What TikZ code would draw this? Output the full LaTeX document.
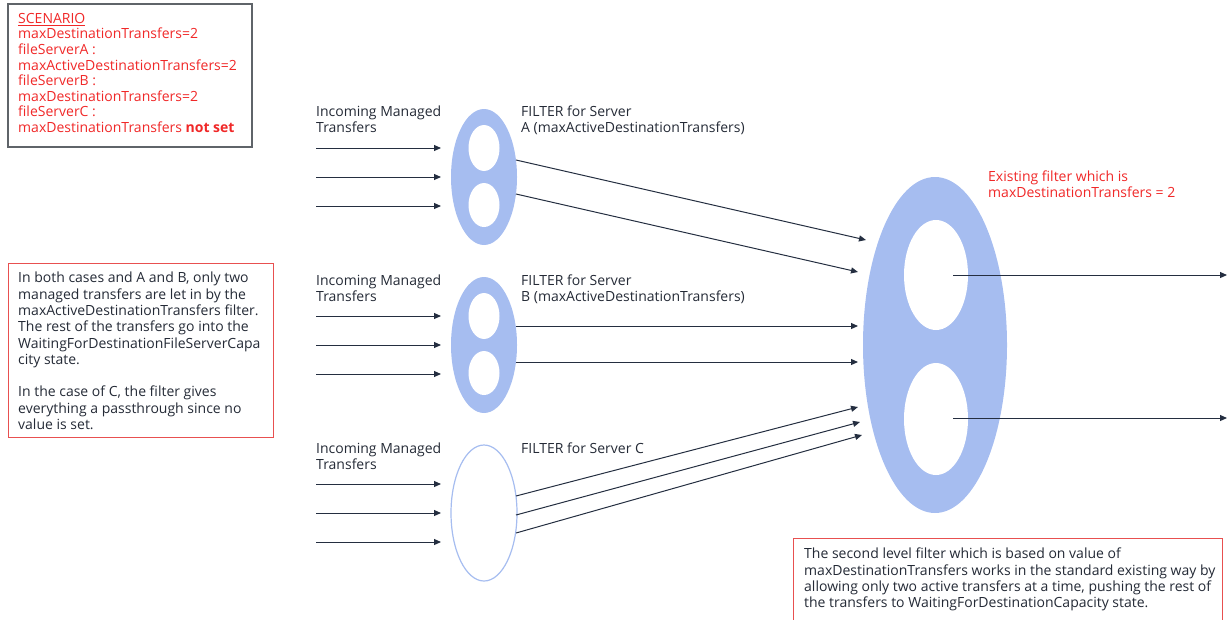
\documentclass[tikz,border=0pt]{standalone}
\usepackage{fontspec}
\setmainfont{Open Sans}
\usetikzlibrary{shapes.geometric,arrows.meta}
\definecolor{blueF}{RGB}{166,189,240}
\definecolor{redT}{RGB}{240,40,40}
\definecolor{redB}{RGB}{232,80,80}
\definecolor{darkT}{RGB}{36,42,54}
\definecolor{arrC}{RGB}{36,46,64}
\definecolor{greyB}{RGB}{95,100,105}
\tikzset{
  txt/.style={inner sep=0pt, anchor=north west, align=left, text=darkT, font=\fontsize{14}{16}\selectfont},
  redtxt/.style={txt, text=redT},
  conn/.style={draw=arrC, line width=1pt, -{Triangle[length=7pt,width=6pt]}},
  filterA/.style={ellipse, fill=blueF, inner sep=0pt, minimum width=66pt, minimum height=136pt},
  hole/.style={ellipse, fill=white, inner sep=0pt},
}
\begin{document}
\begin{tikzpicture}[x=1pt,y=-1pt]
\useasboundingbox (0,0) rectangle (1228,619);
\clip (0,0) rectangle (1228,619);
% scenario box
\node[draw=greyB, line width=1.5pt, anchor=north west, minimum width=244pt, minimum height=143pt, inner sep=0pt] (scen) at (7,3) {};
\node[redtxt, font=\fontsize{14}{15.6}\selectfont] (scentxt) at (18,13) {\underline{SCENARIO}\\maxDestinationTransfers=2\\fileServerA :\\maxActiveDestinationTransfers=2\\fileServerB :\\maxDestinationTransfers=2\\fileServerC :\\maxDestinationTransfers \textbf{not set}};
% left note
\node[draw=redB, line width=1pt, anchor=north west, minimum width=265pt, minimum height=174pt, inner sep=0pt] (note) at (8,263) {};
\node[txt, font=\fontsize{14}{16.3}\selectfont] (notetxt) at (18,272) {In both cases and A and B, only two\\managed transfers are let in by the\\maxActiveDestinationTransfers filter.\\The rest of the transfers go into the\\WaitingForDestinationFileServerCapa\\city state.\\[16.3pt]In the case of C, the filter gives\\everything a passthrough since no\\value is set.};
% labels
\node[txt] (inA) at (316,106) {Incoming Managed\\Transfers};
\node[txt] (inB) at (316,275) {Incoming Managed\\Transfers};
\node[txt] (inC) at (316,443) {Incoming Managed\\Transfers};
\node[txt] (lblA) at (521,106) {FILTER for Server\\A (maxActiveDestinationTransfers)};
\node[txt] (lblB) at (521,275) {FILTER for Server\\B (maxActiveDestinationTransfers)};
\node[txt] (lblC) at (521,443) {FILTER for Server C};
\node[redtxt] (lblD) at (988,171) {Existing filter which is\\maxDestinationTransfers = 2};
% filters
\node[filterA] (fA) at (484,177) {};
\node[hole, minimum width=31pt, minimum height=46pt] (fAh1) at (484,148) {};
\node[hole, minimum width=31pt, minimum height=44pt] (fAh2) at (484,205) {};
\node[filterA] (fB) at (484,345) {};
\node[hole, minimum width=31pt, minimum height=46pt] (fBh1) at (484,316) {};
\node[hole, minimum width=31pt, minimum height=44pt] (fBh2) at (484,373) {};
\node[ellipse, draw=blueF, line width=1.2pt, fill=white, inner sep=0pt, minimum width=66pt, minimum height=136pt] (fC) at (484,513) {};
\node[ellipse, fill=blueF, inner sep=0pt, minimum width=144pt, minimum height=336pt] (fD) at (935,345) {};
\node[hole, minimum width=64pt, minimum height=110pt] (fDh1) at (936,275) {};
\node[hole, minimum width=64pt, minimum height=112pt] (fDh2) at (936,419) {};
% bottom note
\node[draw=redB, fill=white, line width=1pt, anchor=north west, minimum width=429pt, minimum height=100pt, inner sep=0pt] (note2) at (793,538) {};
\node[txt, font=\fontsize{14}{16.3}\selectfont] (note2txt) at (804,548) {The second level filter which is based on value of\\maxDestinationTransfers works in the standard existing way by\\allowing only two active transfers at a time, pushing the rest of\\the transfers to WaitingForDestinationCapacity state.};
% coordinates
\foreach \n/\y in {A1/148,A2/177,A3/206,B1/316,B2/345,B3/374,C1/484,C2/513,C3/542}{
  \coordinate (s\n) at (316,\y);
  \coordinate (e\n) at (441,\y);
}
\coordinate (oA1) at (516,160); \coordinate (tA1) at (866,240);
\coordinate (oA2) at (516,194); \coordinate (tA2) at (858,272);
\coordinate (oB1) at (516,326); \coordinate (tB1) at (858,326);
\coordinate (oB2) at (516,362); \coordinate (tB2) at (858,362);
\coordinate (oC1) at (516,496); \coordinate (tC1) at (858,407);
\coordinate (oC2) at (516,515); \coordinate (tC2) at (860,422);
\coordinate (oC3) at (516,533); \coordinate (tC3) at (862,435);
\coordinate (oD1) at (953,275); \coordinate (tD1) at (1227,275);
\coordinate (oD2) at (953,418); \coordinate (tD2) at (1227,418);
% connectors
\foreach \n in {A1,A2,A3,B1,B2,B3,C1,C2,C3}{
  \draw[conn] (s\n) -- (e\n);
}
\foreach \n in {A1,A2,B1,B2,C1,C2,C3,D1,D2}{
  \draw[conn] (o\n) -- (t\n);
}
\end{tikzpicture}
\end{document}
